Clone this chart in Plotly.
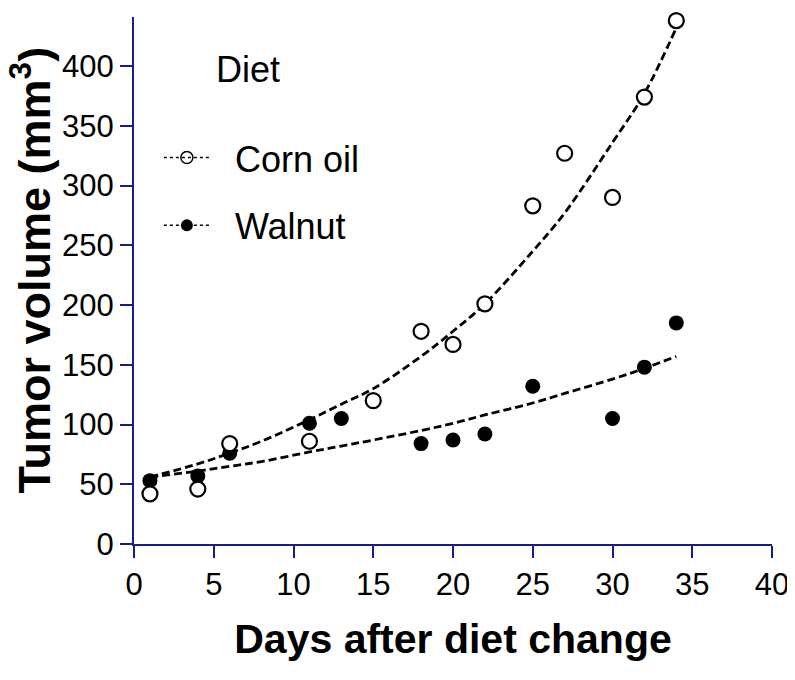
import plotly.graph_objects as go

# measured points (days, tumor volume mm3)
corn_days = [1, 4, 6, 11, 15, 18, 20, 22, 25, 27, 30, 32, 34]
corn_vol = [42, 46, 84, 86, 120, 178, 167, 201, 283, 327, 290, 374, 438]

walnut_days = [1, 4, 6, 11, 13, 18, 20, 22, 25, 30, 32, 34]
walnut_vol = [53, 57, 76, 101, 105, 84, 87, 92, 132, 105, 148, 185]

# dashed fit curves
fit_days = [1, 4, 6, 8, 11, 13, 15, 18, 20, 22, 25, 27, 30, 32, 34]
corn_fit = [56, 67, 76, 86, 104, 117, 130, 157, 178, 201, 245, 277, 336, 377, 432]
walnut_fit = [56, 61, 65, 69, 77, 82, 87, 95, 101, 108, 118, 126, 138, 147, 157]

AXIS = "#1c1c86"
DASH = "8px,4px"

fig = go.Figure()

# fit lines
fig.add_trace(go.Scatter(x=fit_days, y=corn_fit, mode="lines", line_shape="spline",
                         line=dict(color="black", width=2.8, dash=DASH),
                         showlegend=False, hoverinfo="skip"))
fig.add_trace(go.Scatter(x=fit_days, y=walnut_fit, mode="lines", line_shape="spline",
                         line=dict(color="black", width=2.8, dash=DASH),
                         showlegend=False, hoverinfo="skip"))

# data points
fig.add_trace(go.Scatter(x=walnut_days, y=walnut_vol, mode="markers", cliponaxis=False,
                         marker=dict(symbol="circle", size=15, color="black"),
                         showlegend=False, name="Walnut"))
fig.add_trace(go.Scatter(x=corn_days, y=corn_vol, mode="markers", cliponaxis=False,
                         marker=dict(symbol="circle", size=15, color="white",
                                     line=dict(color="black", width=2.2)),
                         showlegend=False, name="Corn oil"))

# legend entries only
fig.add_trace(go.Scatter(x=[None], y=[None], mode="lines+markers", name="&nbsp;&nbsp;Corn oil",
                         legendgroup="c",
                         line=dict(color="black", width=1.5, dash="3px,3px"),
                         marker=dict(symbol="circle-open", size=12, color="black",
                                     line=dict(width=1.5))))
fig.add_trace(go.Scatter(x=[None], y=[None], mode="lines+markers", name="&nbsp;&nbsp;Walnut",
                         legendgroup="w",
                         line=dict(color="black", width=1.5, dash="3px,3px"),
                         marker=dict(symbol="circle", size=12, color="black")))

fig.add_annotation(text="Diet", xref="paper", yref="paper", x=0.125, y=0.90,
                   xanchor="left", yanchor="middle", showarrow=False,
                   font=dict(size=36, color="black"))

# y title as an annotation (axis title standoff is ignored without automargin)
fig.add_annotation(text="<b>Tumor volume (mm<sup>3</sup>)</b>", xref="paper", yref="paper",
                   x=-0.162, y=0.52, xanchor="center", yanchor="middle",
                   textangle=-90, showarrow=False, font=dict(size=45, color="black"))

# page body has an 8px margin, so the figure is a bit smaller than the window
fig.update_layout(
    width=787, height=672,
    margin=dict(l=126, r=23, t=9, b=136),
    plot_bgcolor="white", paper_bgcolor="white",
    font=dict(family="Liberation Sans, Arial, sans-serif", color="black"),
    legend=dict(x=0.039, y=0.79, xanchor="left", yanchor="top",
                font=dict(size=36), tracegroupgap=18, itemwidth=46,
                bgcolor="rgba(0,0,0,0)"),
    xaxis=dict(range=[0, 40], dtick=5, showline=True, linecolor=AXIS, linewidth=2,
               ticks="outside", ticklen=12, tickwidth=2, tickcolor=AXIS,
               showgrid=False, zeroline=False, tickfont=dict(size=31), automargin=False,
               title=dict(text="<b>Days after diet change</b>", standoff=23,
                          font=dict(size=41))),
    yaxis=dict(range=[0, 441], dtick=50, showline=True, linecolor=AXIS, linewidth=2,
               ticks="outside", ticklen=12, tickwidth=2, tickcolor=AXIS,
               showgrid=False, zeroline=False, tickfont=dict(size=31), automargin=False),
)

fig.write_html("out.html")
